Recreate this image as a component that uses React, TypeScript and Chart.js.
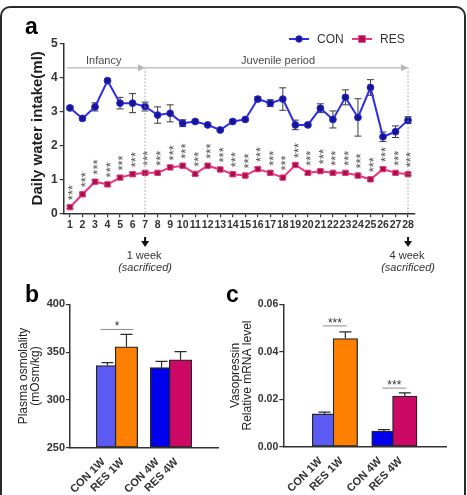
import { useEffect, useRef } from 'react';
import { Chart, registerables } from 'chart.js';

Chart.register(...registerables);

const FONT = '"Liberation Sans", Arial, Helvetica, sans-serif';
const INK = '#2b2b2b';

// ---- Panel a: daily water intake over the first 28 days ----
const DAYS = [
  '1', '2', '3', '4', '5', '6', '7', '8', '9', '10', '11', '12', '13', '14',
  '15', '16', '17', '18', '19', '20', '21', '22', '23', '24', '25', '26', '27', '28',
];
const CON_INTAKE = [
  3.1, 2.79, 3.13, 3.9, 3.24, 3.24, 3.14, 2.89, 2.94, 2.65, 2.7, 2.6, 2.45, 2.7,
  2.76, 3.36, 3.24, 3.36, 2.6, 2.6, 3.09, 2.76, 3.41, 2.82, 3.7, 2.25, 2.4, 2.74,
];
const CON_SEM = [
  0.06, 0.04, 0.12, 0.05, 0.17, 0.28, 0.13, 0.24, 0.25, 0.1, 0.05, 0.05, 0.05, 0.06,
  0.04, 0.07, 0.1, 0.33, 0.14, 0.05, 0.13, 0.25, 0.22, 0.55, 0.23, 0.14, 0.17, 0.1,
];
const RES_INTAKE = [
  0.18, 0.56, 0.93, 0.85, 1.05, 1.15, 1.19, 1.19, 1.35, 1.4, 1.16, 1.4, 1.29, 1.15,
  1.11, 1.3, 1.19, 1.05, 1.42, 1.19, 1.24, 1.19, 1.19, 1.11, 1.0, 1.3, 1.19, 1.15,
];
const RES_SEM = [
  0.04, 0.05, 0.06, 0.05, 0.05, 0.06, 0.05, 0.04, 0.05, 0.05, 0.05, 0.05, 0.04, 0.05,
  0.04, 0.05, 0.05, 0.04, 0.06, 0.05, 0.04, 0.04, 0.04, 0.04, 0.04, 0.05, 0.04, 0.04,
];
const RES_VS_CON = '***';
const PERIODS = [
  { label: 'Infancy', endDay: '7' },
  { label: 'Juvenile period', endDay: '28' },
];
const SACRIFICE = [
  { day: '7', line1: '1 week', line2: '(sacrificed)' },
  { day: '28', line1: '4 week', line2: '(sacrificed)' },
];

// ---- Panels b and c: endpoint measurements ----
const GROUPS = ['CON 1W', 'RES 1W', 'CON 4W', 'RES 4W'];
const GROUP_COLORS = ['#5b5bf3', '#ff8000', '#0000ee', '#cc0a66'];
const OSMOLALITY = [336, 355.6, 333.7, 342];
const OSMOLALITY_SEM = [3, 13, 6.6, 8.4];
const OSMOLALITY_SIG = [{ from: 0, to: 1, y: 373.7, mark: '*' }];
const VASOPRESSIN = [0.0138, 0.0456, 0.0066, 0.0213];
const VASOPRESSIN_SEM = [0.0008, 0.0028, 0.0006, 0.0014];
const VASOPRESSIN_SIG = [
  { from: 0, to: 1, y: 0.0509, mark: '***' },
  { from: 2, to: 3, y: 0.0247, mark: '***' },
];

// slot positions on the bar axis: two pairs with a wider gap between them
const BAR_SLOTS = [1, 2, 3.85, 4.85];

const font = (size: number, weight: string = 'bold', style: string = 'normal') =>
  `${style} ${weight} ${size}px ${FONT}`;

function lineErrorBars() {
  return {
    id: 'lineErrorBars',
    beforeDatasetsDraw(chart: any) {
      const { ctx } = chart;
      const ys = chart.scales.y;
      chart.data.datasets.forEach((ds: any, di: number) => {
        const meta = chart.getDatasetMeta(di);
        ctx.save();
        ctx.strokeStyle = '#3a3a3a';
        ctx.lineWidth = 1;
        meta.data.forEach((pt: any, i: number) => {
          const v = ds.data[i];
          const e = ds.sem[i];
          const top = ys.getPixelForValue(v + e);
          const bot = ys.getPixelForValue(v - e);
          ctx.beginPath();
          ctx.moveTo(pt.x, top);
          ctx.lineTo(pt.x, bot);
          ctx.moveTo(pt.x - 3.5, top);
          ctx.lineTo(pt.x + 3.5, top);
          ctx.moveTo(pt.x - 3.5, bot);
          ctx.lineTo(pt.x + 3.5, bot);
          ctx.stroke();
        });
        ctx.restore();
      });
    },
  };
}

function intakeAnnotations() {
  return {
    id: 'intakeAnnotations',
    afterDatasetsDraw(chart: any) {
      const { ctx } = chart;
      // significance marks above each RES point, stacked vertically
      const resMeta = chart.getDatasetMeta(1);
      ctx.save();
      ctx.fillStyle = '#505050';
      ctx.font = font(13, 'normal');
      ctx.textAlign = 'left';
      ctx.textBaseline = 'alphabetic';
      resMeta.data.forEach((pt: any) => {
        ctx.save();
        ctx.translate(pt.x, pt.y - 7);
        ctx.rotate(-Math.PI / 2);
        ctx.fillText(RES_VS_CON, 0, 0.57 * 13);
        ctx.restore();
      });
      ctx.restore();
    },
    afterDraw(chart: any) {
      const { ctx, chartArea } = chart;
      const xs = chart.scales.x;
      const ys = chart.scales.y;
      ctx.save();

      // panel letter
      ctx.fillStyle = '#000';
      ctx.font = font(23);
      ctx.textAlign = 'left';
      ctx.textBaseline = 'alphabetic';
      ctx.fillText('a', 25, 34);

      // legend
      const legendY = 39;
      const items = [
        { x: 289, label: 'CON', color: '#2e2ee6', fill: '#16168f', square: false },
        { x: 352, label: 'RES', color: '#e8377f', fill: '#a3104b', square: true },
      ];
      items.forEach((it) => {
        ctx.strokeStyle = it.color;
        ctx.lineWidth = 2;
        ctx.beginPath();
        ctx.moveTo(it.x, legendY);
        ctx.lineTo(it.x + 20, legendY);
        ctx.stroke();
        ctx.fillStyle = it.fill;
        ctx.strokeStyle = it.color;
        ctx.lineWidth = 1;
        ctx.beginPath();
        if (it.square) ctx.rect(it.x + 10 - 3.3, legendY - 3.3, 6.6, 6.6);
        else ctx.arc(it.x + 10, legendY, 3.3, 0, Math.PI * 2);
        ctx.fill();
        ctx.stroke();
        ctx.fillStyle = '#333';
        ctx.font = font(12, 'normal');
        ctx.textBaseline = 'middle';
        ctx.fillText(it.label, it.x + 28, legendY + 0.5);
      });

      // period spans with arrows and dotted boundaries
      const spanY = ys.getPixelForValue(4.28);
      let start = chartArea.left + 3;
      PERIODS.forEach((p) => {
        const end = xs.getPixelForValue(DAYS.indexOf(p.endDay));
        ctx.strokeStyle = '#c4c4c4';
        ctx.lineWidth = 1.5;
        ctx.beginPath();
        ctx.moveTo(start, spanY);
        ctx.lineTo(end - 5, spanY);
        ctx.stroke();
        ctx.fillStyle = '#b5b5b5';
        ctx.beginPath();
        ctx.moveTo(end, spanY);
        ctx.lineTo(end - 7, spanY - 3.5);
        ctx.lineTo(end - 7, spanY + 3.5);
        ctx.closePath();
        ctx.fill();

        ctx.strokeStyle = '#9a9a9a';
        ctx.lineWidth = 1;
        ctx.setLineDash([1.5, 2]);
        ctx.beginPath();
        ctx.moveTo(end, spanY);
        ctx.lineTo(end, chartArea.bottom);
        ctx.stroke();
        ctx.setLineDash([]);

        ctx.fillStyle = '#4a4a4a';
        ctx.font = font(11, 'normal');
        ctx.textAlign = 'center';
        ctx.textBaseline = 'middle';
        const textX = p.label === 'Infancy' ? start + 37 : start + 133;
        ctx.fillText(p.label, textX, spanY - 7);
        start = end;
      });

      // sacrifice markers below the axis
      SACRIFICE.forEach((s) => {
        const x = xs.getPixelForValue(DAYS.indexOf(s.day));
        ctx.fillStyle = '#111';
        ctx.fillRect(x - 1, 237, 2, 5);
        ctx.beginPath();
        ctx.moveTo(x - 4, 241);
        ctx.lineTo(x + 4, 241);
        ctx.lineTo(x, 247);
        ctx.closePath();
        ctx.fill();
        ctx.fillStyle = '#333';
        ctx.textAlign = 'center';
        ctx.textBaseline = 'middle';
        ctx.font = font(11, 'normal');
        ctx.fillText(s.line1, x - 1, 256);
        ctx.font = font(11, 'normal', 'italic');
        ctx.fillText(s.line2, x, 268);
      });
      ctx.restore();
    },
  };
}

type Sig = { from: number; to: number; y: number; mark: string };

function barExtras(letter: string, letterX: number, sem: number[], sig: Sig[], outset: number, sigFont: number) {
  return {
    id: 'barExtras',
    afterDatasetsDraw(chart: any) {
      const { ctx } = chart;
      const ys = chart.scales.y;
      const meta = chart.getDatasetMeta(0);
      const ds = chart.data.datasets[0];
      ctx.save();
      ctx.strokeStyle = INK;
      ctx.lineWidth = 1.2;
      meta.data.forEach((bar: any, i: number) => {
        const top = ys.getPixelForValue(ds.data[i].y + sem[i]);
        ctx.beginPath();
        ctx.moveTo(bar.x, bar.y);
        ctx.lineTo(bar.x, top);
        ctx.moveTo(bar.x - 6, top);
        ctx.lineTo(bar.x + 6, top);
        ctx.stroke();
      });
      sig.forEach((s) => {
        const x0 = meta.data[s.from].x - outset;
        const x1 = meta.data[s.to].x + outset;
        const y = ys.getPixelForValue(s.y);
        ctx.strokeStyle = '#8e8e8e';
        ctx.lineWidth = 1;
        ctx.beginPath();
        ctx.moveTo(x0, y);
        ctx.lineTo(x1, y);
        ctx.stroke();
        ctx.fillStyle = '#333';
        ctx.font = font(sigFont, 'normal');
        ctx.textAlign = 'center';
        ctx.textBaseline = 'alphabetic';
        ctx.fillText(s.mark, (x0 + x1) / 2, y + 1);
      });
      ctx.fillStyle = '#000';
      ctx.font = font(23);
      ctx.textAlign = 'left';
      ctx.fillText(letter, letterX, 22);
      ctx.restore();
    },
  };
}

function barConfig(opts: {
  values: number[];
  sem: number[];
  sig: Sig[];
  min: number;
  max: number;
  step: number;
  decimals: number;
  title: string[];
  titlePad: number;
  yWidth: number;
  xHeight: number;
  padRight: number;
  thickness: number;
  letter: string;
  letterX: number;
  outset: number;
  tickSize: number;
}) {
  return {
    type: 'bar',
    data: {
      datasets: [
        {
          data: BAR_SLOTS.map((x, i) => ({ x, y: opts.values[i] })),
          backgroundColor: GROUP_COLORS,
          borderColor: '#262626',
          borderWidth: 1.3,
          borderSkipped: false,
          barThickness: opts.thickness,
          base: opts.min,
        },
      ],
    },
    options: {
      responsive: false,
      animation: false,
      layout: { padding: { left: 0, top: 24.3, right: opts.padRight, bottom: 0 } },
      plugins: { legend: { display: false }, tooltip: { enabled: false } },
      scales: {
        x: {
          type: 'linear',
          min: 0,
          max: 5.85,
          afterBuildTicks: (s: any) => {
            s.ticks = BAR_SLOTS.map((v) => ({ value: v }));
          },
          afterFit: (s: any) => {
            s.height = opts.xHeight;
          },
          grid: { display: false },
          border: { display: true, color: '#333', width: 1.5 },
          ticks: {
            autoSkip: false,
            minRotation: 45,
            maxRotation: 45,
            padding: 0,
            labelOffset: -4,
            color: '#333',
            font: { family: FONT, size: 11, weight: 'bold' },
            callback: (_v: any, i: number) => GROUPS[i],
          },
        },
        y: {
          min: opts.min,
          max: opts.max,
          afterFit: (s: any) => {
            s.width = opts.yWidth;
          },
          grid: { drawOnChartArea: false, tickLength: 4, color: '#333', lineWidth: 1.2 },
          border: { color: '#333', width: 1.5 },
          ticks: {
            stepSize: opts.step,
            padding: 1,
            color: '#333',
            font: { family: FONT, size: opts.tickSize, weight: 'bold' },
            callback: (v: any) => Number(v).toFixed(opts.decimals),
          },
          title: {
            display: true,
            text: opts.title,
            color: '#222',
            font: { family: FONT, size: 12, lineHeight: 1.03 },
            padding: { top: opts.titlePad, bottom: 0 },
          },
        },
      },
    },
    plugins: [barExtras(opts.letter, opts.letterX, opts.sem, opts.sig, opts.outset, 12)],
  };
}

export default function App() {
  const intakeRef = useRef<HTMLCanvasElement>(null);
  const osmoRef = useRef<HTMLCanvasElement>(null);
  const vasoRef = useRef<HTMLCanvasElement>(null);

  useEffect(() => {
    const charts: Chart[] = [];

    charts.push(
      new Chart(intakeRef.current as HTMLCanvasElement, {
        type: 'line',
        data: {
          labels: DAYS,
          datasets: [
            {
              label: 'CON',
              data: CON_INTAKE,
              sem: CON_SEM,
              borderColor: '#2e2ee6',
              borderWidth: 2,
              pointStyle: 'circle',
              pointRadius: 3.4,
              pointBackgroundColor: '#16168f',
              pointBorderColor: '#2a2ad8',
              pointBorderWidth: 1,
              tension: 0,
            } as any,
            {
              label: 'RES',
              data: RES_INTAKE,
              sem: RES_SEM,
              borderColor: '#e8377f',
              borderWidth: 2,
              pointStyle: 'rect',
              pointRadius: 3.8,
              pointBackgroundColor: '#a3104b',
              pointBorderColor: '#e8377f',
              pointBorderWidth: 1,
              tension: 0,
            } as any,
          ],
        },
        options: {
          responsive: false,
          animation: false,
          layout: { padding: { left: 0, top: 43.3, right: 52.7, bottom: 51.7 } },
          plugins: { legend: { display: false }, tooltip: { enabled: false } },
          scales: {
            x: {
              type: 'category',
              offset: true,
              afterFit: (s: any) => {
                s.height = 20;
              },
              grid: { drawOnChartArea: false, tickLength: 4, color: '#333', lineWidth: 1.2 },
              border: { color: '#333', width: 1.5 },
              ticks: {
                autoSkip: false,
                maxRotation: 0,
                padding: 2,
                color: '#333',
                font: { family: FONT, size: 10.5, weight: 'bold' },
              },
            },
            y: {
              min: 0,
              max: 5,
              afterFit: (s: any) => {
                s.width = 63.7;
              },
              grid: { drawOnChartArea: false, tickLength: 4, color: '#333', lineWidth: 1.2 },
              border: { color: '#333', width: 1.5 },
              ticks: {
                stepSize: 1,
                padding: 2,
                color: '#333',
                font: { family: FONT, size: 12, weight: 'bold' },
              },
              title: {
                display: true,
                text: 'Daily water intake(ml)',
                color: '#1e1e1e',
                font: { family: FONT, size: 15, weight: 'bold', lineHeight: 1.2 },
                padding: { top: 28.5, bottom: 0 },
              },
            },
          },
        } as any,
        plugins: [lineErrorBars(), intakeAnnotations()],
      } as any)
    );

    charts.push(
      new Chart(
        osmoRef.current as HTMLCanvasElement,
        barConfig({
          values: OSMOLALITY,
          sem: OSMOLALITY_SEM,
          sig: OSMOLALITY_SIG,
          min: 250,
          max: 400,
          step: 50,
          decimals: 0,
          title: ['Plasma osmolality', '(mOsm/kg)'],
          titlePad: 17.2,
          yWidth: 70,
          xHeight: 47.3,
          padRight: 7,
          thickness: 22.5,
          letter: 'b',
          letterX: 25,
          outset: 7,
          tickSize: 11,
        }) as any
      )
    );

    charts.push(
      new Chart(
        vasoRef.current as HTMLCanvasElement,
        barConfig({
          values: VASOPRESSIN,
          sem: VASOPRESSIN_SEM,
          sig: VASOPRESSIN_SIG,
          min: 0,
          max: 0.06,
          step: 0.02,
          decimals: 2,
          title: ['Vasopressin', 'Relative mRNA level'],
          titlePad: 7.4,
          yWidth: 61.3,
          xHeight: 48.3,
          padRight: 21,
          thickness: 24.5,
          letter: 'c',
          letterX: 4,
          outset: 1.5,
          tickSize: 10.5,
        }) as any
      )
    );

    return () => charts.forEach((c) => c.destroy());
  }, []);

  return (
    <div
      style={{
        position: 'absolute',
        left: 0,
        top: 0,
        width: 467,
        height: 495,
        overflow: 'hidden',
        background: '#fff',
      }}
    >
      <div
        style={{
          position: 'absolute',
          left: 0,
          top: 6,
          width: 466,
          height: 530,
          boxSizing: 'border-box',
          border: '2px solid #2a2a2a',
          borderRadius: 10,
        }}
      />
      <canvas
        ref={intakeRef}
        width={467}
        height={285}
        style={{ position: 'absolute', left: 0, top: 0, width: 467, height: 285 }}
      />
      <canvas
        ref={osmoRef}
        width={225}
        height={215}
        style={{ position: 'absolute', left: 0, top: 280, width: 225, height: 215 }}
      />
      <canvas
        ref={vasoRef}
        width={245}
        height={215}
        style={{ position: 'absolute', left: 222, top: 280, width: 245, height: 215 }}
      />
    </div>
  );
}
